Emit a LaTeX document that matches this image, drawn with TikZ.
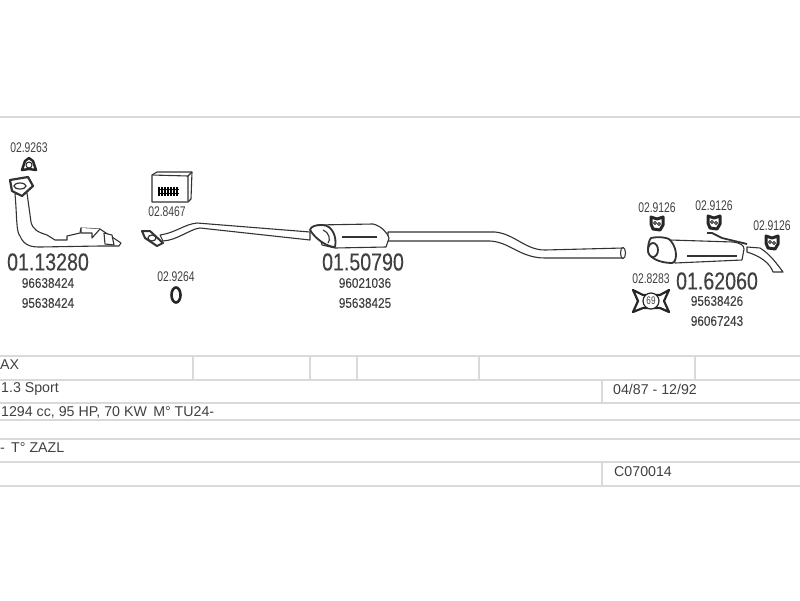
\documentclass[tikz,border=0pt]{standalone}
\usepackage{fontspec}
\setmainfont{Liberation Sans}
\newfontfamily\bigfont[FakeStretch=0.8,FakeBold=0.25]{Liberation Sans}
\newfontfamily\oemfont[FakeStretch=0.84,FakeBold=0.1]{Liberation Sans}
\newfontfamily\smallfont[FakeStretch=0.74]{Liberation Sans}
\definecolor{inkgray}{gray}{0.25}
\definecolor{rulegray}{gray}{0.85}
\begin{document}
\begin{tikzpicture}[x=1pt, y=-1pt,
code_big/.style={text=inkgray, inner sep=0pt, font=\bigfont\fontsize{24.5}{24}\selectfont},
code_oem/.style={text=inkgray, inner sep=0pt, font=\oemfont\fontsize{14}{14}\selectfont},
code_small/.style={text=inkgray, inner sep=0pt, font=\smallfont\fontsize{14}{14}\selectfont},
row_text/.style={anchor=west, text=inkgray, inner sep=0pt, font=\fontsize{14.2}{14}\selectfont},
table_rule/.style={rulegray, line width=1.6pt},
pipe_line/.style={draw=black!80, line width=1.1pt, fill=white, line join=round},
ring_style/.style={draw=black!85, line width=2.4pt, fill=white, line join=round},
]
\useasboundingbox (0,0) rectangle (800,600);

% table
\foreach\y in {117,356,380,403,420,439,462,486}{
	\draw[table_rule] (0,\y) -- (800,\y);
	}
\foreach\x in {193,310,357,479,695}{
	\draw[table_rule] (\x,356) -- (\x,380);
	}
\draw[table_rule] (602,380) -- (602,403);
\draw[table_rule] (602,462) -- (602,486);

\node[row_text] at (0,365) (row_model) {AX};
\node[row_text] at (1,389) (row_engine) {1.3 Sport};
\node[row_text] at (1,412) (row_power) {1294 cc, 95 HP, 70 KW\, M° TU24-};
\node[row_text] at (0,448) (row_type) {- \,T° ZAZL};
\node[row_text] at (613,389) (row_years) {04/87 - 12/92};
\node[row_text] at (614,472) (row_ref) {C070014};

% front pipe
\draw[pipe_line] (15,194) .. controls (17,215) and (16,232) .. (20,236) .. controls (24,246) and (32,247) .. (40,247) -- (100,246) -- (119,246) -- (121,243) -- (100,229) -- (81,228) -- (80,233) -- (67,236) -- (67,240) -- (55,240) -- (47,235) .. controls (38,232) and (33,230) .. (31,222) -- (27,193) -- cycle;
\draw[pipe_line] (81,228) -- (81,233) -- (92,233) -- (92,238) -- (100,229);
\draw[pipe_line] (104,233) -- (112,235) -- (114,245) -- (105,244) -- cycle;
\draw[pipe_line, line width=2.2pt] (10,180) -- (28,177) -- (33,186) -- (22,196) -- (12,191) -- cycle;
\draw[black!80, line width=1.2pt] (20,186) ellipse (6 and 3);

% middle pipe
\draw[pipe_line] (160,235) .. controls (175,233) and (185,224) .. (197,223) -- (310,232) -- (310,240) -- (200,228) .. controls (190,229) and (178,240) .. (163,241) -- cycle;
\draw[pipe_line, line width=2pt] (142,231) -- (150,231) -- (163,243) -- (157,246) -- (145,238) -- cycle;
\draw[black!80, line width=1.2pt] (152,238) ellipse (4 and 3);
\draw[pipe_line] (388,232) -- (495,232) .. controls (515,234) and (525,250) .. (545,250) -- (623,248) -- (623,258) -- (545,258) .. controls (520,258) and (510,242) .. (490,241) -- (388,241) -- cycle;
\draw[pipe_line] (623,253) ellipse (2.5 and 5.5);

% middle muffler
\draw[pipe_line] (317,225) -- (373,224) .. controls (381,226) and (387,232) .. (389,238) -- (386,247) -- (335,248) -- (322,245) -- cycle;
\draw[pipe_line] (342,237) -- (377,237);
\draw[pipe_line, line width=1.8pt] (322,225) .. controls (333,225) and (337,238) .. (335,247) .. controls (328,247) and (316,240) .. (310,230) .. controls (311,226) and (316,225) .. (322,225) -- cycle;
\draw[pipe_line] (323,230) .. controls (329,232) and (331,240) .. (328,243);

% rear muffler
\draw[pipe_line] (747,247) -- (760,248) .. controls (770,254) and (777,264) .. (783,272) -- (773,272) .. controls (770,263) and (760,256) .. (747,252) -- cycle;
\draw[pipe_line] (670,240) -- (733,242) .. controls (740,243) and (744,245) .. (744,249) -- (742,260) -- (675,263) -- cycle;
\draw[pipe_line] (687,256) -- (737,256);
\draw[pipe_line, line width=1.8pt] (707,233) -- (712,233) -- (722,238) -- (747,244);
\draw[pipe_line, line width=1.8pt] (651,238) .. controls (660,236) and (670,238) .. (671,241) .. controls (678,250) and (677,262) .. (672,263) .. controls (660,263) and (648,258) .. (648,250) .. controls (648,245) and (649,240) .. (651,238) -- cycle;
\draw[pipe_line, line width=1.8pt] (653,250) ellipse (5 and 7);

% bracket box
\draw[pipe_line] (152,175) -- (157,172) -- (192,172) -- (191,199) -- (188,202) -- (152,202) -- cycle;
\draw[pipe_line] (152,175) -- (188,176) -- (188,202);
\draw[pipe_line] (188,176) -- (192,172);
\foreach\x in {159,162,...,177}{
	\draw[black, line width=1.5pt] (\x,187) -- (\x,196);
	}
\draw[black, line width=1pt] (158,189) -- (179,189);
\draw[black, line width=1pt] (158,193) -- (179,193);

% small rubber parts
\draw[ring_style] (22,170) -- (25,161) -- (29,158) -- (33,161) -- (36,170) -- (29,169) -- cycle;
\draw[black!85, line width=1pt, fill=white] (29,165) circle (3);
\draw[black!85, line width=2.6pt, fill=white] (176,295) ellipse (4.5 and 7.5);
\foreach\x/\y in {657/223,714/222,772/242}{
	\draw[ring_style, line width=3pt] (\x-6,\y-6) -- (\x,\y-4) -- (\x+6,\y-6) -- (\x+6,\y+2) -- (\x+3,\y+7) -- (\x-4,\y+6) -- (\x-6,\y+1) -- cycle;
	\draw[black!85, line width=1pt, fill=white] (\x-2,\y) circle (1.5);
	\draw[black!85, line width=1pt, fill=white] (\x+2,\y+1) circle (1.5);
	}

% clamp
\draw[ring_style, line width=2.2pt] (633,290) -- (643,295) -- (660,295) -- (669,290) -- (664,301) -- (669,312) -- (660,308) -- (643,308) -- (633,312) -- (638,301) -- cycle;
\draw[black!85, line width=1.2pt, fill=white] (651,301) circle (8);
\node[inner sep=0pt, text=inkgray, font=\smallfont\fontsize{11}{11}\selectfont] at (651,301) (clamp_size) {69};

% codes
\node[code_big] at (48,262) (front_code) {01.13280};
\node[code_oem] at (48,283) (front_oem_a) {96638424};
\node[code_oem] at (48,303) (front_oem_b) {95638424};
\node[code_big] at (363,262) (middle_code) {01.50790};
\node[code_oem] at (365,283) (middle_oem_a) {96021036};
\node[code_oem] at (365,303) (middle_oem_b) {95638425};
\node[code_big] at (717,281) (rear_code) {01.62060};
\node[code_oem] at (717,301) (rear_oem_a) {95638426};
\node[code_oem] at (717,321) (rear_oem_b) {96067243};

\node[code_small] at (29,148) (gasket_code) {02.9263};
\node[code_small] at (167,212) (box_code) {02.8467};
\node[code_small] at (176,277) (ring_code) {02.9264};
\node[code_small] at (651,279) (clamp_code) {02.8283};
\node[code_small] at (657,208) (hanger_code_a) {02.9126};
\node[code_small] at (714,206) (hanger_code_b) {02.9126};
\node[code_small] at (772,226) (hanger_code_c) {02.9126};

\end{tikzpicture}
\end{document}
